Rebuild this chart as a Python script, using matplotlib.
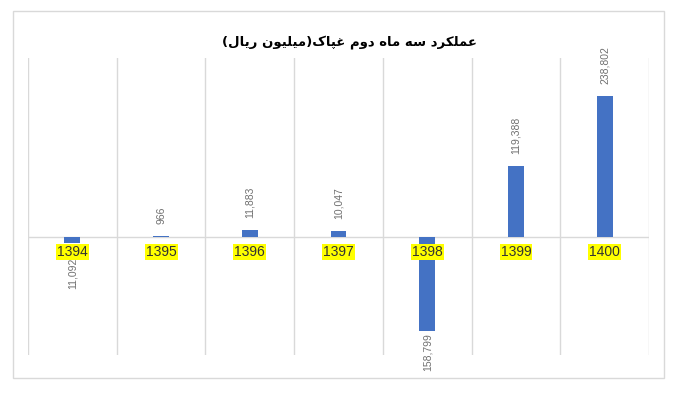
import matplotlib
matplotlib.use('Agg')
import numpy as np
import matplotlib.pyplot as plt
from matplotlib.patches import Rectangle

years = ['1394', '1395', '1396', '1397', '1398', '1399', '1400']
profit = [-11092, 966, 11883, 10047, -158799, 119388, 238802]
title_fa = 'عملکرد سه ماه دوم غپاک(میلیون ریال)'

# contextual forms: (isolated, final, initial, medial)
FORMS = {
    'ع': (0xFEC9, 0xFECA, 0xFECB, 0xFECC),
    'غ': (0xFECD, 0xFECE, 0xFECF, 0xFED0),
    'م': (0xFEE1, 0xFEE2, 0xFEE3, 0xFEE4),
    'ل': (0xFEDD, 0xFEDE, 0xFEDF, 0xFEE0),
    'ک': (0xFB8E, 0xFB8F, 0xFB90, 0xFB91),
    'س': (0xFEB1, 0xFEB2, 0xFEB3, 0xFEB4),
    'ه': (0xFEE9, 0xFEEA, 0xFEEB, 0xFEEC),
    'پ': (0xFB56, 0xFB57, 0xFB58, 0xFB59),
    'ی': (0xFBFC, 0xFBFD, 0xFBFE, 0xFBFF),
    'ن': (0xFEE5, 0xFEE6, 0xFEE7, 0xFEE8),
    'ر': (0xFEAD, 0xFEAE, 0xFEAD, 0xFEAE),
    'د': (0xFEA9, 0xFEAA, 0xFEA9, 0xFEAA),
    'ا': (0xFE8D, 0xFE8E, 0xFE8D, 0xFE8E),
    'و': (0xFEED, 0xFEEE, 0xFEED, 0xFEEE),
}
DUAL = set('عغملکسهپین')


def shape(text):
    out = []
    for i, ch in enumerate(text):
        if ch not in FORMS:
            out.append(ch)
            continue
        prev = text[i - 1] if i > 0 else ''
        nxt = text[i + 1] if i + 1 < len(text) else ''
        jp = prev in DUAL
        jn = ch in DUAL and nxt in FORMS
        iso, fin, ini, med = FORMS[ch]
        if jp and jn:
            out.append(chr(med))
        elif jp:
            out.append(chr(fin))
        elif jn:
            out.append(chr(ini))
        else:
            out.append(chr(iso))
    s = ''.join(out)[::-1]
    return s.translate(str.maketrans('()', ')('))


fig = plt.figure(figsize=(7, 4), dpi=100)
ax = fig.add_axes([28 / 700, 1 - 355 / 400, (649 - 28) / 700, (355 - 58) / 400])

x = np.arange(len(years))
ax.bar(x, profit, width=0.18, color='#4472C4', zorder=3)
ax.set_xlim(-0.5, len(years) - 0.5)
ax.set_ylim(-200000, 303000)
ax.axhline(0, color='#d9d9d9', lw=1, zorder=2)

ax.set_xticks(np.arange(-0.5, len(years)), minor=True)
ax.set_xticks([])
ax.set_yticks([])
ax.grid(which='minor', axis='x', color='#d9d9d9', lw=1)
ax.tick_params(which='both', length=0)
for sp in ax.spines.values():
    sp.set_visible(False)

fig.canvas.draw()
zero_px = ax.transData.transform((0, 0))[1]
for i, v in enumerate(profit):
    lab = f'{abs(v):,}'
    if v >= 0:
        ax.annotate(lab, (i, v), xytext=(0, 12), textcoords='offset pixels',
                    rotation=90, ha='center', va='bottom', fontsize=7.5,
                    color='#707070', family='Liberation Sans')
    else:
        # keep the label clear of the year label below the zero line
        depth = zero_px - ax.transData.transform((i, v))[1]
        off = max(depth + 2, 21)
        ax.annotate(lab, (i, 0), xytext=(0, -off), textcoords='offset pixels',
                    rotation=90, ha='center', va='top', fontsize=7.5,
                    color='#707070', family='Liberation Sans')
    ax.annotate(years[i], (i, 0), xytext=(0, -15), textcoords='offset pixels',
                ha='center', va='center', fontsize=10, color='#333333',
                family='Liberation Sans', zorder=4,
                bbox=dict(boxstyle='square,pad=0.08', fc='#ffff00', ec='none'))

fig.text(350 / 700, 1 - 42 / 400, shape(title_fa), ha='center', va='center',
         fontsize=9.5, fontweight='bold', family='DejaVu Sans')

fig.patches.append(Rectangle((13 / 700, 1 - 378 / 400), (664 - 13) / 700, (378 - 11) / 400,
                             transform=fig.transFigure, fill=False,
                             ec='#d9d9d9', lw=1))

fig.savefig('out.png', dpi=100)
